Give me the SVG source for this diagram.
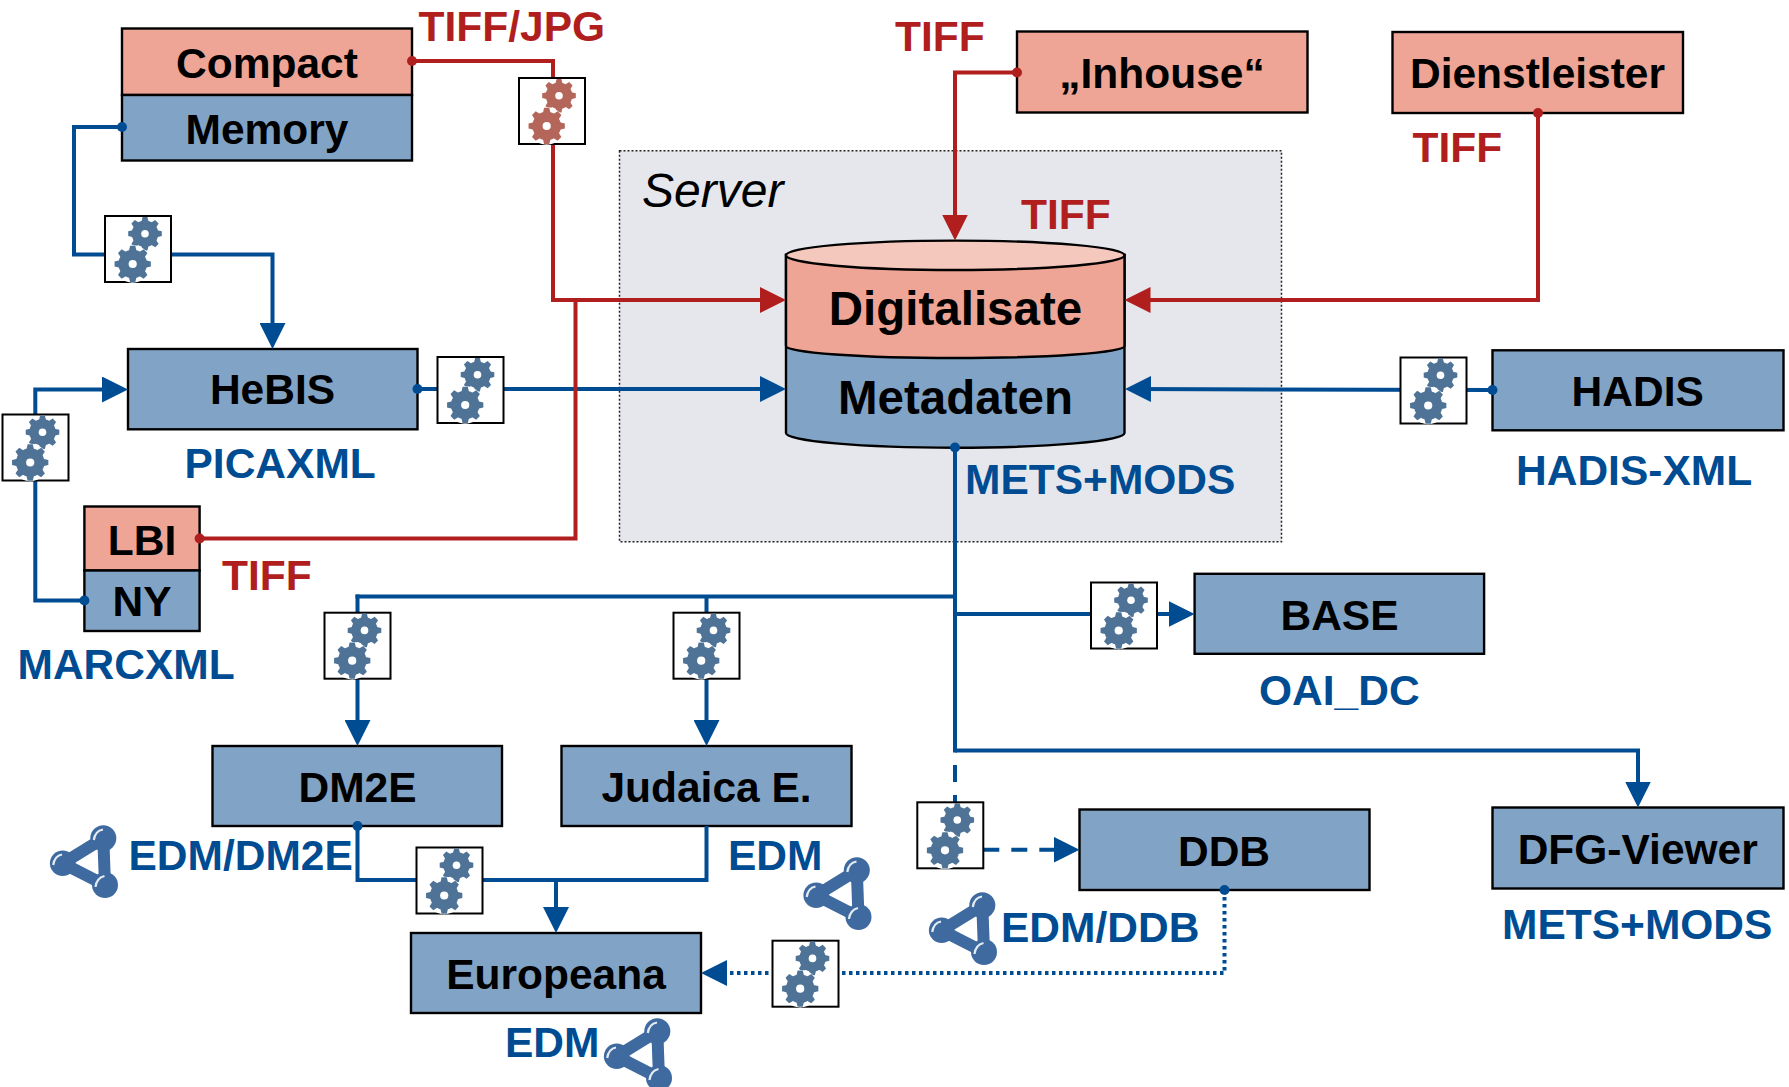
<svg xmlns="http://www.w3.org/2000/svg" xmlns:xlink="http://www.w3.org/1999/xlink" width="1789" height="1087" viewBox="0 0 1789 1087">
<style>
text{font-family:"Liberation Sans",Arial,sans-serif;font-weight:700;font-size:42.5px}
.c{text-anchor:middle;fill:#000}
.r{fill:#b01e1e}
.b{fill:#004c93}
.sal{fill:#eea595;stroke:#000;stroke-width:2.4}
.blu{fill:#81a4c6;stroke:#000;stroke-width:2.4}
.w{fill:none;stroke-width:4;stroke-linejoin:miter}
.wb{stroke:#004c93}
.wr{stroke:#b01e1e}
.gb{fill:#fff;stroke:#000;stroke-width:2}
</style>
<defs>
<marker id="ab" markerUnits="userSpaceOnUse" markerWidth="26" markerHeight="26" refX="16" refY="13" orient="auto"><path d="M0,0L26,13L0,26z" fill="#004c93"/></marker>
<marker id="ar" markerUnits="userSpaceOnUse" markerWidth="26" markerHeight="26" refX="16" refY="13" orient="auto"><path d="M0,0L26,13L0,26z" fill="#b01e1e"/></marker>
<marker id="db" markerUnits="userSpaceOnUse" markerWidth="11" markerHeight="11" refX="5.500" refY="5.500"><circle cx="5.500" cy="5.500" r="5" fill="#004c93"/></marker>
<marker id="dr" markerUnits="userSpaceOnUse" markerWidth="11" markerHeight="11" refX="5.500" refY="5.500"><circle cx="5.500" cy="5.500" r="5" fill="#b01e1e"/></marker>
<path id="bar" d="M-2.400,-16.800H2.400L4,-10V10L2.400,16.800H-2.400L-4,10V-10Z" fill="currentColor"/>
<g id="gear"><circle r="13.200" fill="currentColor"/><use xlink:href="#bar" href="#bar"/><use xlink:href="#bar" href="#bar" transform="rotate(45)"/><use xlink:href="#bar" href="#bar" transform="rotate(90)"/><use xlink:href="#bar" href="#bar" transform="rotate(135)"/><circle r="3.800" fill="#fff"/></g>
<g id="gears"><use xlink:href="#gear" href="#gear" transform="translate(40 17.700)"/><circle cx="27.700" cy="48" r="18.800" fill="#fff"/><use xlink:href="#gear" href="#gear" transform="translate(27.700 48) scale(1.08)"/></g>
<g id="net">
<path d="M53.300,13.300L12.700,38.300L55,60Z" fill="none" stroke="#3f6aa0" stroke-width="12" stroke-linejoin="round"/>
<circle cx="53.300" cy="13.300" r="13" fill="#3f6aa0"/><circle cx="12.700" cy="38.300" r="12.800" fill="#3f6aa0"/><circle cx="55" cy="60" r="13" fill="#3f6aa0"/>
<path d="M43.800,15Q45,6 53,4.500M3.200,40Q4.500,31 12,29.500M45.500,62Q46.500,53 54.500,51" fill="none" stroke="#e4ebf3" stroke-width="2.200"/>
</g>
</defs>
<rect width="1789" height="1087" fill="#fff"/>
<g id="server"><rect x="619.500" y="150.700" width="662" height="391" fill="#e6e7ec" stroke="#222" stroke-width="1.500" stroke-dasharray="2 2"/><text x="642" y="207" style="font-weight:400;font-style:italic;font-size:48px" fill="#000">Server</text></g>
<g id="compact"><rect class="sal" x="122" y="28.500" width="290" height="66.500"/><text class="c" x="267" y="77.500">Compact</text></g>
<g id="memory"><rect class="blu" x="122" y="95" width="290" height="65.500"/><text class="c" x="267" y="143.500">Memory</text></g>
<g id="inhouse"><rect class="sal" x="1017" y="31.500" width="290.500" height="81"/><text class="c" x="1162" y="88">„Inhouse“</text></g>
<g id="dienstleister"><rect class="sal" x="1392.500" y="32" width="290.500" height="81"/><text class="c" x="1537.500" y="88">Dienstleister</text></g>
<g id="hebis"><rect class="blu" x="128" y="349" width="289.500" height="80.300"/><text class="c" x="272.500" y="404">HeBIS</text></g>
<g id="hadis"><rect class="blu" x="1492.500" y="350.300" width="291" height="80"/><text class="c" x="1637.700" y="406">HADIS</text></g>
<g id="lbi"><rect class="sal" x="84.400" y="506.500" width="115.200" height="64"/><text class="c" x="142" y="555">LBI</text></g>
<g id="ny"><rect class="blu" x="84.400" y="570.500" width="115.200" height="60.500"/><text class="c" x="142" y="616">NY</text></g>
<g id="base"><rect class="blu" x="1194.600" y="573.800" width="289.500" height="80"/><text class="c" x="1339.500" y="630">BASE</text></g>
<g id="dm2e"><rect class="blu" x="212.500" y="746" width="289.500" height="80"/><text class="c" x="357.500" y="802">DM2E</text></g>
<g id="judaica"><rect class="blu" x="561.500" y="746" width="290" height="80"/><text class="c" x="706.500" y="802">Judaica E.</text></g>
<g id="dfg"><rect class="blu" x="1492.500" y="807.500" width="291" height="81"/><text class="c" x="1637.700" y="863.500">DFG-Viewer</text></g>
<g id="ddb"><rect class="blu" x="1079.500" y="809.500" width="290" height="80.500"/><text class="c" x="1224" y="866">DDB</text></g>
<g id="europeana"><rect class="blu" x="411" y="933" width="290" height="80"/><text class="c" x="556" y="989">Europeana</text></g>
<g id="cylinder">
<path d="M786,255V433A169.250,14.700 0 0 0 1124.500,433V255Z" fill="#81a4c6" stroke="#000" stroke-width="2.400"/>
<path d="M786,255V346A169.250,12 0 0 0 1124.500,346V255Z" fill="#eea595" stroke="#000" stroke-width="2.400"/>
<ellipse cx="955.250" cy="255.300" rx="169.250" ry="14.700" fill="#f5c8be" stroke="#000" stroke-width="2.400"/>
<text class="c" x="955.500" y="325" style="font-size:47.500px">Digitalisate</text>
<text class="c" x="955.500" y="414" style="font-size:47.500px">Metadaten</text>
</g>
<g id="connectors">
<path class="w wb" marker-start="url(#db)" marker-end="url(#ab)" d="M122,127H74V254.500H272.500V339"/>
<path class="w wb" marker-start="url(#db)" marker-end="url(#ab)" d="M417.500,389H776"/>
<path class="w wb" marker-start="url(#db)" marker-end="url(#ab)" d="M84.400,600.500H35.300V389.500H118"/>
<path class="w wb" marker-start="url(#db)" marker-end="url(#ab)" d="M1492.500,390L1135,389"/>
<path class="w wb" marker-start="url(#db)" d="M955,447.500V752.500"/>
<path class="w wb" d="M955,596.500H355.500"/>
<path class="w wb" marker-end="url(#ab)" d="M357.500,594.500V736"/>
<path class="w wb" marker-end="url(#ab)" d="M706.500,596.500V736"/>
<path class="w wb" marker-end="url(#ab)" d="M955,614H1184.600"/>
<path class="w wb" marker-end="url(#ab)" d="M955,750.500H1638V797.500"/>
<path class="w wb" stroke-dasharray="17 13" d="M955,765V803"/>
<path class="w wb" stroke-dasharray="16 12" marker-end="url(#ab)" d="M983.300,849.700H1069.500"/>
<path class="w wb" marker-start="url(#db)" d="M357.500,826V880H706.500V826"/>
<path class="w wb" marker-end="url(#ab)" d="M556,880V923"/>
<path class="w wb" stroke-dasharray="3.500 3.500" marker-start="url(#db)" marker-end="url(#ab)" d="M1224.500,890V973H711"/>
<path class="w wr" marker-start="url(#dr)" marker-end="url(#ar)" d="M412,61H553V300H776"/>
<path class="w wr" marker-start="url(#dr)" d="M199.600,538.500H575.500V300"/>
<path class="w wr" marker-start="url(#dr)" marker-end="url(#ar)" d="M1017,72.500H955V230.500"/>
<path class="w wr" marker-start="url(#dr)" marker-end="url(#ar)" d="M1538,113V300H1134.500"/>
</g>
<g id="gear-compact" style="color:#b5665a"><rect class="gb" x="519" y="78" width="66" height="66"/><use xlink:href="#gears" href="#gears" x="519" y="78"/></g>
<g id="gear-memory" style="color:#4f7396"><rect class="gb" x="105" y="216" width="66" height="66"/><use xlink:href="#gears" href="#gears" x="105" y="216"/></g>
<g id="gear-hebis" style="color:#4f7396"><rect class="gb" x="437.500" y="357" width="66" height="66"/><use xlink:href="#gears" href="#gears" x="437.500" y="357"/></g>
<g id="gear-hadis" style="color:#4f7396"><rect class="gb" x="1400.500" y="357.500" width="66" height="66"/><use xlink:href="#gears" href="#gears" x="1400.500" y="357.500"/></g>
<g id="gear-ny" style="color:#4f7396"><rect class="gb" x="2.500" y="414.500" width="66" height="66"/><use xlink:href="#gears" href="#gears" x="2.500" y="414.500"/></g>
<g id="gear-base" style="color:#4f7396"><rect class="gb" x="1091" y="582.500" width="66" height="66"/><use xlink:href="#gears" href="#gears" x="1091" y="582.500"/></g>
<g id="gear-dm2e" style="color:#4f7396"><rect class="gb" x="324.500" y="612.700" width="66" height="66"/><use xlink:href="#gears" href="#gears" x="324.500" y="612.700"/></g>
<g id="gear-judaica" style="color:#4f7396"><rect class="gb" x="673.500" y="612.700" width="66" height="66"/><use xlink:href="#gears" href="#gears" x="673.500" y="612.700"/></g>
<g id="gear-ddb" style="color:#4f7396"><rect class="gb" x="917.300" y="802.300" width="66" height="66"/><use xlink:href="#gears" href="#gears" x="917.300" y="802.300"/></g>
<g id="gear-europeana" style="color:#4f7396"><rect class="gb" x="416.500" y="847.500" width="66" height="66"/><use xlink:href="#gears" href="#gears" x="416.500" y="847.500"/></g>
<g id="gear-ddb-europeana" style="color:#4f7396"><rect class="gb" x="772.500" y="940.700" width="66" height="66"/><use xlink:href="#gears" href="#gears" x="772.500" y="940.700"/></g>
<g id="icons">
<use xlink:href="#net" href="#net" x="50" y="825"/>
<use xlink:href="#net" href="#net" x="803.500" y="857"/>
<use xlink:href="#net" href="#net" x="929" y="892"/>
<use xlink:href="#net" href="#net" x="604" y="1018"/>
</g>
<g id="labels">
<text class="r" x="418.500" y="41">TIFF/JPG</text>
<text class="r" x="895" y="51">TIFF</text>
<text class="r" x="1412.500" y="162">TIFF</text>
<text class="r" x="1021" y="228.500">TIFF</text>
<text class="r" x="222" y="589.500">TIFF</text>
<text class="b" x="184.500" y="478">PICAXML</text>
<text class="b" x="965" y="494">METS+MODS</text>
<text class="b" x="1516" y="485">HADIS-XML</text>
<text class="b" x="17.500" y="679">MARCXML</text>
<text class="b" x="1259" y="705">OAI_DC</text>
<text class="b" x="128.500" y="870">EDM/DM2E</text>
<text class="b" x="728" y="870">EDM</text>
<text class="b" x="1001" y="942">EDM/DDB</text>
<text class="b" x="1502" y="939">METS+MODS</text>
<text class="b" x="505" y="1057">EDM</text>
</g>
</svg>
